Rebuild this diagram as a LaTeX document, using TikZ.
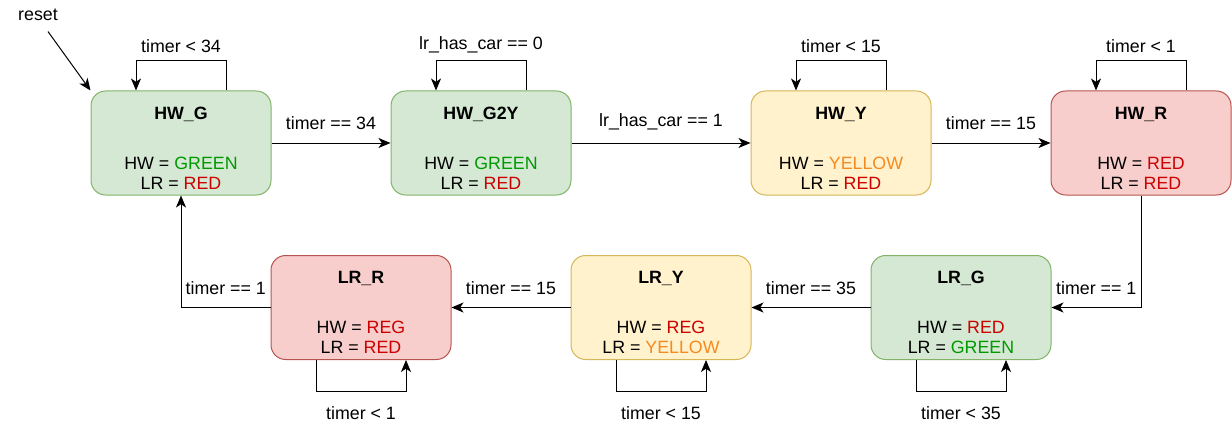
\documentclass[tikz,border=0pt]{standalone}
\usepackage{fontspec}
\setmainfont{Liberation Sans}
\usetikzlibrary{arrows.meta}
\definecolor{grnfill}{HTML}{D5E8D4}
\definecolor{grnline}{HTML}{82B366}
\definecolor{ylwfill}{HTML}{FFF2CC}
\definecolor{ylwline}{HTML}{D6B656}
\definecolor{redfill}{HTML}{F8CECC}
\definecolor{redline}{HTML}{B85450}
\definecolor{txtgreen}{HTML}{009900}
\definecolor{txtred}{HTML}{CC0000}
\definecolor{txtyellow}{HTML}{F58A1F}
\newcommand{\G}{\textcolor{txtgreen}{GREEN}}
\newcommand{\R}[1][RED]{\textcolor{txtred}{#1}}
\newcommand{\Y}{\textcolor{txtyellow}{YELLOW}}
\newcommand{\stxt}[3]{\rule{0pt}{17pt}\textbf{#1}\\[22.5pt]#2\\#3}
\tikzset{
  state/.style={draw, line width=0.75pt, rounded corners=11pt, align=center,
    minimum width=135pt, minimum height=78pt, inner sep=0pt},
  stgreen/.style={state, fill=grnfill, draw=grnline},
  styellow/.style={state, fill=ylwfill, draw=ylwline},
  stred/.style={state, fill=redfill, draw=redline},
  arr/.style={line width=0.75pt, -{Stealth[length=9pt, width=7.5pt, inset=2.5pt]}},
}
\begin{document}
\begin{tikzpicture}[x=0.75pt, y=-0.75pt, font=\fontsize{13.35}{15}\selectfont]
\useasboundingbox (0,0) rectangle (1232,428);
% top row
\node [stgreen] (HWG) at (181,143) {\stxt{HW\_G}{HW = \G}{LR = \R}};
\node [stgreen] (HWG2Y) at (481,143) {\stxt{HW\_G2Y}{HW = \G}{LR = \R}};
\node [styellow] (HWY) at (841,143) {\stxt{HW\_Y}{HW = \Y}{LR = \R}};
\node [stred] (HWR) at (1141,143) {\stxt{HW\_R}{HW = \R}{LR = \R}};
% bottom row
\node [stred] (LRR) at (361,307.5) {\stxt{LR\_R}{HW = \R[REG]}{LR = \R}};
\node [styellow] (LRY) at (661,307.5) {\stxt{LR\_Y}{HW = \R[REG]}{LR = \Y}};
\node [stgreen] (LRG) at (961,307.5) {\stxt{LR\_G}{HW = \R}{LR = \G}};
% reset
\node (reset) at (38,15) {reset};
\draw [arr] ([shift={(10,6)}]reset.south) -- (HWG.north west);
% self loops on top
\draw [arr] ([xshift=33.75pt]HWG.north) -- ++(0,-30) -| ([xshift=-33.75pt]HWG.north)
  node [pos=0.25, above=2pt] {timer < 34};
\draw [arr] ([xshift=33.75pt]HWG2Y.north) -- ++(0,-30) -| ([xshift=-33.75pt]HWG2Y.north)
  node [pos=0.25, above=2pt] {lr\_has\_car == 0};
\draw [arr] ([xshift=33.75pt]HWY.north) -- ++(0,-30) -| ([xshift=-33.75pt]HWY.north)
  node [pos=0.25, above=2pt] {timer < 15};
\draw [arr] ([xshift=33.75pt]HWR.north) -- ++(0,-30) -| ([xshift=-33.75pt]HWR.north)
  node [pos=0.25, above=2pt] {timer < 1};
% self loops below
\draw [arr] ([xshift=-33.75pt]LRR.south) -- ++(0,31) -| ([xshift=33.75pt]LRR.south)
  node [pos=0.25, below=8pt] {timer < 1};
\draw [arr] ([xshift=-33.75pt]LRY.south) -- ++(0,31) -| ([xshift=33.75pt]LRY.south)
  node [pos=0.25, below=8pt] {timer < 15};
\draw [arr] ([xshift=-33.75pt]LRG.south) -- ++(0,31) -| ([xshift=33.75pt]LRG.south)
  node [pos=0.25, below=8pt] {timer < 35};
% transitions
\draw [arr] (HWG) -- (HWG2Y) node [midway, above=6pt] {timer == 34};
\draw [arr] (HWG2Y) -- (HWY) node [midway, above=6pt] {lr\_has\_car == 1};
\draw [arr] (HWY) -- (HWR) node [midway, above=6pt] {timer == 15};
\draw [arr] (HWR.south) |- (LRG.east) node [pos=0.75, above=6pt] {timer == 1};
\draw [arr] (LRG) -- (LRY) node [midway, above=6pt] {timer == 35};
\draw [arr] (LRY) -- (LRR) node [midway, above=6pt] {timer == 15};
\draw [arr] (LRR.west) -| (HWG.south) node [pos=0.25, above=6pt] {timer == 1};
\end{tikzpicture}
\end{document}
